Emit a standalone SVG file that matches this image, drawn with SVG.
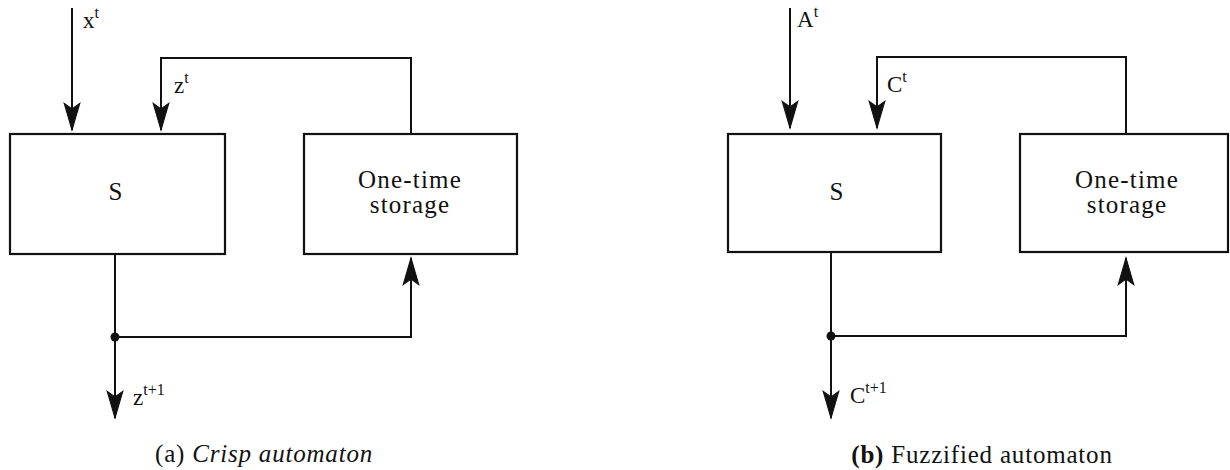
<svg xmlns="http://www.w3.org/2000/svg" width="1230" height="470" viewBox="0 0 1230 470">
<style>
  .box{fill:#fff;stroke:#111;stroke-width:2.2}
  .wire{fill:none;stroke:#111;stroke-width:2}
  .arr{marker-end:url(#ah)}
  text{font-family:"Liberation Serif","Times New Roman",serif;fill:#111}
  .lbl{font-size:25px;letter-spacing:1.2px}
  .sym{font-size:23px}
  .sup{font-size:16px}
  .cap{font-size:25px;letter-spacing:0.8px}
</style>
<defs>
  <marker id="ah" markerUnits="userSpaceOnUse" markerWidth="32" markerHeight="20" viewBox="-26 -9 28 18" refX="0" refY="0" orient="auto">
    <path d="M0,0 L-24,-7 L-19,0 L-24,7 Z" fill="#111" stroke="#111" stroke-width="1" stroke-linejoin="miter"/>
  </marker>
</defs>
<rect width="1230" height="470" fill="#fff"/>

<g id="connectors">
  <path class="wire arr" d="M72,8 V130"/>
  <path class="wire arr" d="M411,134 V58 H161 V130"/>
  <path class="wire arr" d="M115,254 V418"/>
  <path class="wire arr" d="M115,337 H411 V258"/>
  <circle cx="115" cy="337" r="4.5" fill="#111"/>

  <path class="wire arr" d="M790,8 V128"/>
  <path class="wire arr" d="M1126,134 V57 H877 V128"/>
  <path class="wire arr" d="M831,252 V418"/>
  <path class="wire arr" d="M831,336 H1126 V258"/>
  <circle cx="831" cy="336" r="4.5" fill="#111"/>
</g>

<g id="crisp-S">
  <rect class="box" x="10" y="134" width="215" height="120"/>
  <text class="lbl" x="116" y="200" text-anchor="middle">S</text>
</g>
<g id="crisp-storage">
  <rect class="box" x="304" y="134" width="213" height="120"/>
  <text class="lbl" x="410" y="188" text-anchor="middle">One-time</text>
  <text class="lbl" x="410" y="213" text-anchor="middle">storage</text>
</g>
<g id="crisp-labels">
  <text class="sym" x="83" y="28">x<tspan class="sup" dy="-10">t</tspan></text>
  <text class="sym" x="174" y="93">z<tspan class="sup" dy="-10">t</tspan></text>
  <text class="sym" x="133" y="405">z<tspan class="sup" dy="-10">t+1</tspan></text>
  <text class="cap" x="264" y="462" text-anchor="middle">(a) <tspan font-style="italic">Crisp automaton</tspan></text>
</g>

<g id="fuzzy-S">
  <rect class="box" x="728" y="134" width="213" height="118"/>
  <text class="lbl" x="837" y="200" text-anchor="middle">S</text>
</g>
<g id="fuzzy-storage">
  <rect class="box" x="1020" y="134" width="208" height="118"/>
  <text class="lbl" x="1127" y="188" text-anchor="middle">One-time</text>
  <text class="lbl" x="1127" y="213" text-anchor="middle">storage</text>
</g>
<g id="fuzzy-labels">
  <text class="sym" x="797" y="27">A<tspan class="sup" dy="-10">t</tspan></text>
  <text class="sym" x="887" y="92">C<tspan class="sup" dy="-10">t</tspan></text>
  <text class="sym" x="850" y="403">C<tspan class="sup" dy="-10">t+1</tspan></text>
  <text class="cap" x="982" y="463" text-anchor="middle"><tspan font-weight="bold">(b)</tspan> Fuzzified automaton</text>
</g>
</svg>
